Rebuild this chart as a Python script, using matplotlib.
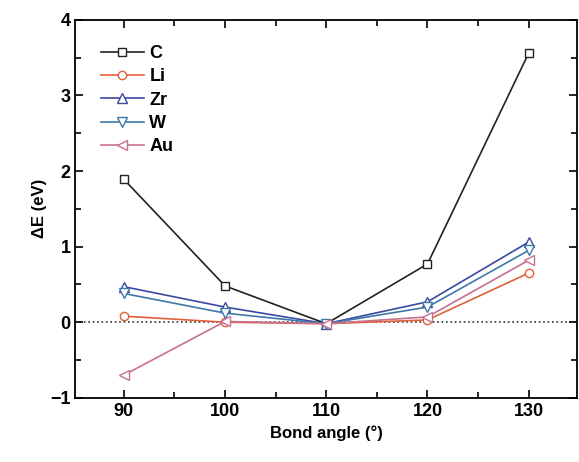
import matplotlib.pyplot as plt
from matplotlib.ticker import MultipleLocator

plt.rcParams['font.family'] = ['Liberation Sans', 'DejaVu Sans']

# bond angle (deg) and energy differences (eV)
angles = [90, 100, 110, 120, 130]
dE_C = [1.89, 0.48, -0.02, 0.77, 3.56]
dE_Li = [0.08, 0.00, -0.02, 0.03, 0.65]
dE_Zr = [0.47, 0.20, -0.02, 0.27, 1.06]
dE_W = [0.38, 0.12, -0.02, 0.20, 0.95]
dE_Au = [-0.70, 0.01, -0.02, 0.07, 0.82]

fig = plt.figure(figsize=(5.79, 4.62), dpi=100)
ax = fig.add_axes([0.13, 0.139, 0.867, 0.818])

ax.axhline(0, color='#333333', ls=':', lw=1.2, zorder=1)

ax.plot(angles, dE_C, '-s', color='#222222', mfc='white', ms=6, lw=1.2, label='C')
ax.plot(angles, dE_Li, '-o', color='#e0603a', mfc='white', ms=6, lw=1.2, label='Li')
ax.plot(angles, dE_Zr, '-^', color='#3a4aa0', mfc='white', ms=6.5, lw=1.2, label='Zr')
ax.plot(angles, dE_W, '-v', color='#3f78a8', mfc='white', ms=6.5, lw=1.2, label='W')
ax.plot(angles, dE_Au, '-<', color='#c87090', mfc='white', ms=6.5, lw=1.2, label='Au')

ax.set_xlim(85.2, 134.8)
ax.set_ylim(-1, 4)
ax.set_xticks(angles)
ax.xaxis.set_minor_locator(MultipleLocator(5))
ax.yaxis.set_major_locator(MultipleLocator(1))
ax.yaxis.set_minor_locator(MultipleLocator(0.5))
ax.tick_params(which='both', direction='in', top=True, right=True,
               labelsize=13, width=1.2)
ax.tick_params(which='major', length=6)
ax.tick_params(which='minor', length=4)
for lab in ax.get_xticklabels() + ax.get_yticklabels():
    lab.set_fontweight('bold')
for s in ax.spines.values():
    s.set_linewidth(1.3)

ax.set_xlabel('Bond angle (°)', fontsize=12, fontweight='bold', labelpad=4)
ax.set_ylabel('ΔE (eV)', fontsize=12, fontweight='bold', labelpad=2)

ax.legend(loc='upper left', frameon=False, handlelength=2.4,
          labelspacing=0.35, borderaxespad=1.0, handletextpad=0.3,
          prop={'weight': 'bold', 'size': 13})

fig.savefig('out.png', dpi=100)
